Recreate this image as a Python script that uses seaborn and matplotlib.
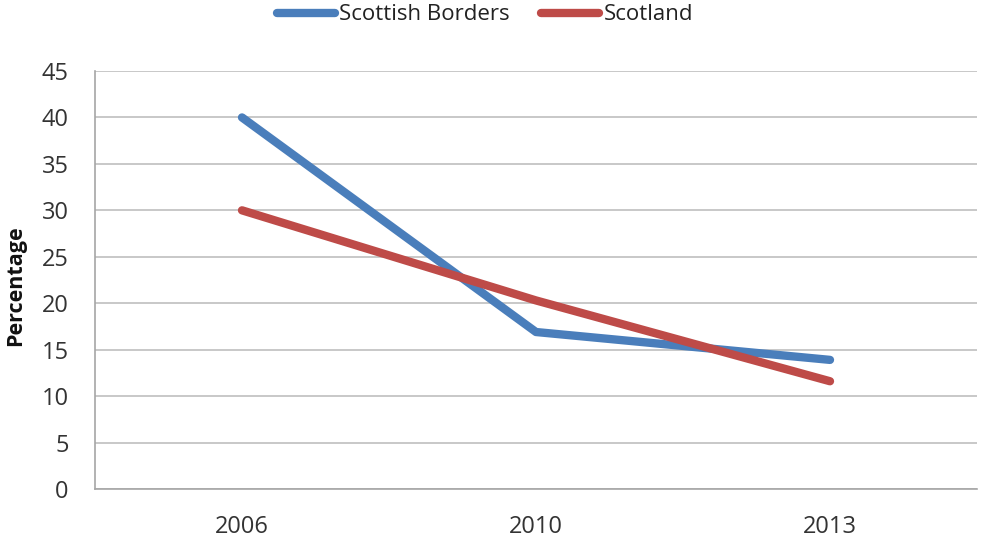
import matplotlib
matplotlib.use("Agg")
import matplotlib.pyplot as plt
import seaborn as sns
import pandas as pd

years = ["2006", "2010", "2013"]
borders = [40.0, 16.9, 13.9]
scotland = [30.0, 20.3, 11.6]
series_names = ["Scottish Borders", "Scotland"]
colors = ["#4A7EBB", "#BE4B48"]

df = pd.DataFrame({
    "Year": years * 2,
    "Percentage": borders + scotland,
    "Area": [series_names[0]] * 3 + [series_names[1]] * 3,
})

sns.set_theme(style="white")
plt.rcParams["font.family"] = ["Open Sans", "DejaVu Sans"]

fig = plt.figure(figsize=(9.81, 5.41), dpi=100)
ax = fig.add_axes([95 / 981, 1 - 489 / 541, (977 - 95) / 981, (489 - 71) / 541])

sns.lineplot(data=df, x="Year", y="Percentage", hue="Area", palette=colors,
             hue_order=series_names, sort=False, linewidth=6, ax=ax,
             legend=False, solid_capstyle="round")

ax.set_xlim(-0.5, 2.5)
ax.set_ylim(0, 45)
ax.set_yticks(range(0, 46, 5))
ax.yaxis.grid(True, color="#BFBFBF", linewidth=1.2)
ax.set_axisbelow(True)
for side in ["top", "right"]:
    ax.spines[side].set_visible(False)
for side in ["left", "bottom"]:
    ax.spines[side].set_color("#A6A6A6")
    ax.spines[side].set_linewidth(1.2)
ax.tick_params(axis="y", length=0, labelsize=17, pad=19)
ax.tick_params(axis="x", length=0, labelsize=17, pad=19)
for lbl in ax.get_yticklabels() + ax.get_xticklabels():
    lbl.set_color("#333333")
ax.set_xlabel("")
ax.set_ylabel("Percentage", fontsize=15.5, fontweight="bold", color="#111111")
ax.yaxis.set_label_coords(-0.078, 0.486)

handles = [plt.Line2D([], [], color=c, linewidth=6, solid_capstyle="round") for c in colors]
fig.legend(handles, series_names, loc="center", bbox_to_anchor=(485 / 981, 1 - 15 / 541),
           ncol=2, frameon=False, fontsize=16, handlelength=2.6, handletextpad=0.2,
           columnspacing=1.4, labelcolor="#222222")

fig.savefig("out.png", dpi=100)
